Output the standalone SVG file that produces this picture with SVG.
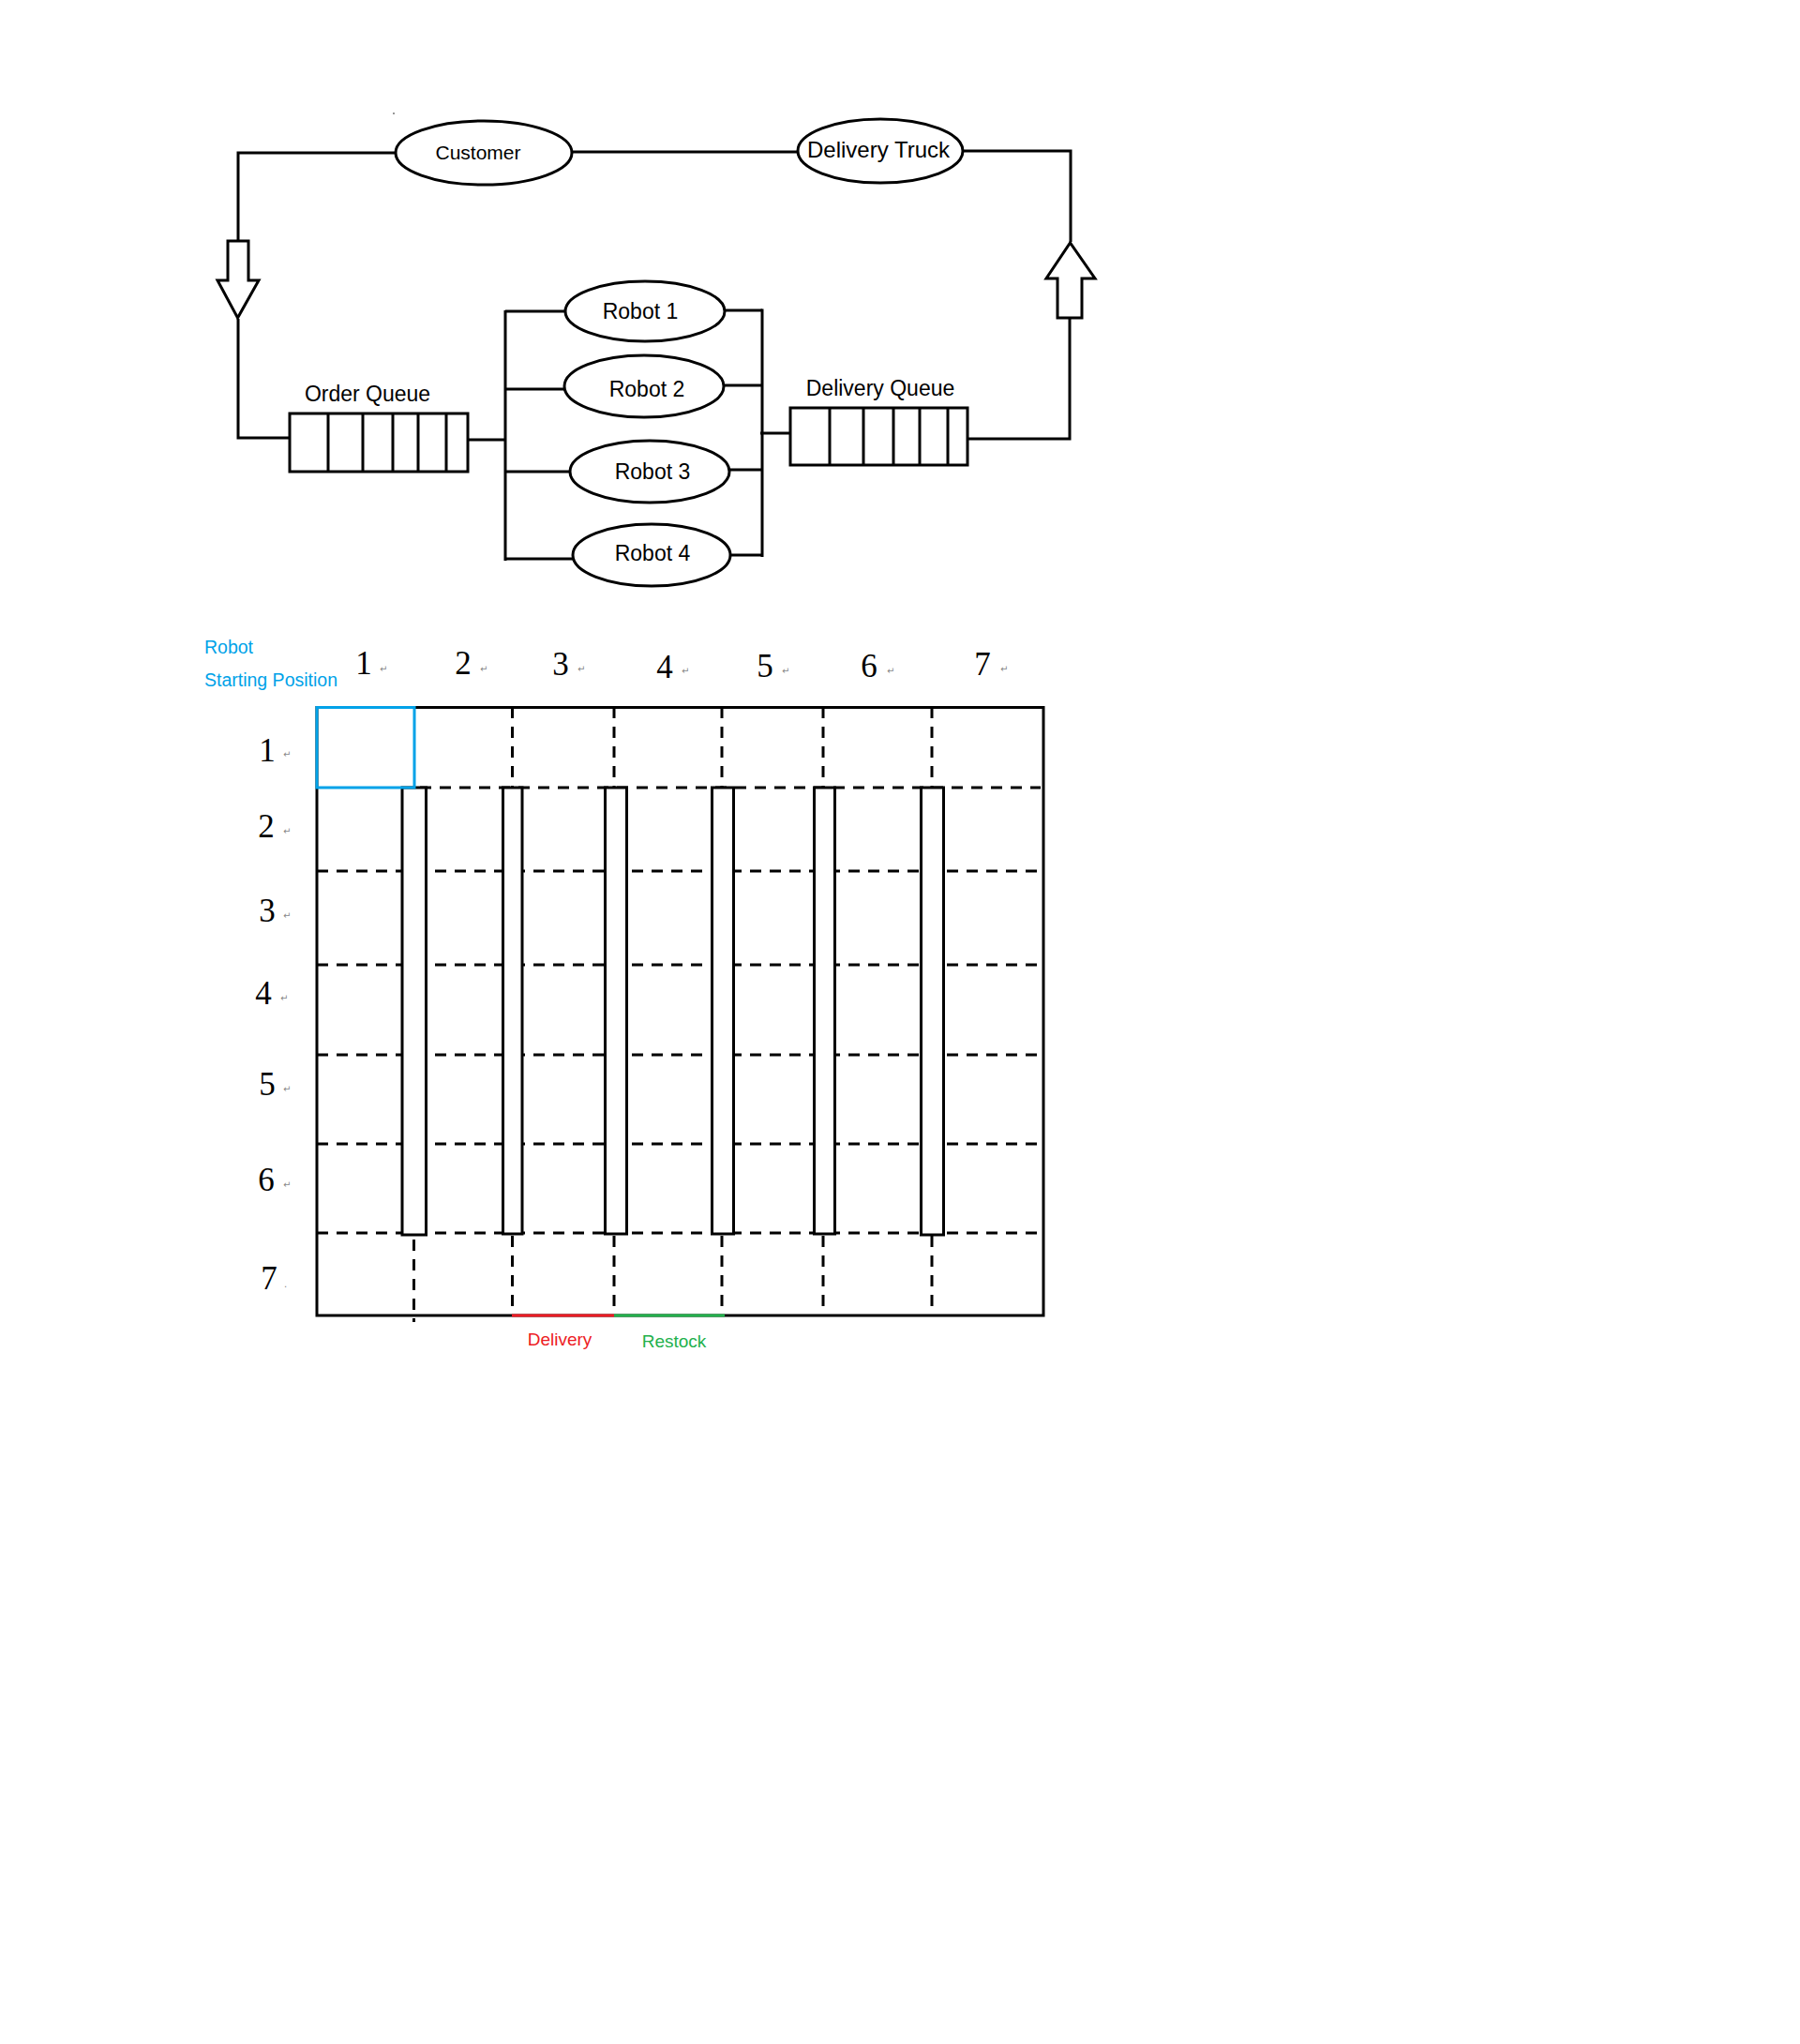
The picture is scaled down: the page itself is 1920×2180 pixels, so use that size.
<svg xmlns="http://www.w3.org/2000/svg" width="1920" height="2180" viewBox="0 0 1920 2180">
<style>
.ln{fill:none;stroke:#000;stroke-width:3}
.nd{fill:#fff;stroke:#000;stroke-width:3}
.lbl{font-family:"Liberation Sans",Arial,sans-serif;fill:#000;text-anchor:middle}
.dash{fill:none;stroke:#000;stroke-width:3;stroke-dasharray:12 9}
.num{font-family:"Liberation Serif","Times New Roman",serif;font-size:35px;fill:#000;text-anchor:middle}
.mk{font-family:"DejaVu Sans",sans-serif;font-size:10px;fill:#888}
.pil{fill:#fff;stroke:#000;stroke-width:3}
.blue{font-family:"Liberation Sans",Arial,sans-serif;font-size:19.5px;fill:#00A2E8}
</style>
<rect width="1920" height="2180" fill="#fff"/>
<circle cx="420" cy="121" r="0.9" fill="#666"/>

<g id="connectors">
  <polyline class="ln" points="422,163 254,163 254,257"/>
  <polyline class="ln" points="254,340 254,467 309,467"/>
  <line class="ln" x1="611" y1="162" x2="850" y2="162"/>
  <polyline class="ln" points="1028,161 1142,161 1142,258"/>
  <polyline class="ln" points="1141,339 1141,468 1033,468"/>
  <line class="ln" x1="500" y1="469" x2="539" y2="469"/>
  <line class="ln" x1="539" y1="331" x2="539" y2="598"/>
  <line class="ln" x1="539" y1="332" x2="603" y2="332"/>
  <line class="ln" x1="539" y1="415" x2="602" y2="415"/>
  <line class="ln" x1="539" y1="503" x2="608" y2="503"/>
  <line class="ln" x1="539" y1="596" x2="611" y2="596"/>
  <line class="ln" x1="773" y1="331" x2="813" y2="331"/>
  <line class="ln" x1="773" y1="411" x2="813" y2="411"/>
  <line class="ln" x1="778" y1="501" x2="813" y2="501"/>
  <line class="ln" x1="779" y1="592" x2="813" y2="592"/>
  <line class="ln" x1="813" y1="329.5" x2="813" y2="594"/>
  <line class="ln" x1="811" y1="462" x2="843" y2="462"/>
  <polygon id="arrow-down" class="nd" points="243,257 265,257 265,299 276,299 253.5,339 232,299 243,299"/>
  <polygon id="arrow-up" class="nd" points="1128,339 1154,339 1154,297 1168,297 1141.5,259 1116,297 1128,297"/>
</g>

<g id="customer">
  <ellipse class="nd" cx="516" cy="163" rx="94" ry="34"/>
  <text class="lbl" x="510" y="170" font-size="21">Customer</text>
</g>
<g id="delivery-truck">
  <ellipse class="nd" cx="939" cy="161" rx="88" ry="34"/>
  <text class="lbl" x="937" y="168" font-size="24">Delivery Truck</text>
</g>
<g id="order-queue">
  <rect class="nd" x="309" y="441" width="190" height="62"/>
  <path class="ln" d="M350,441V503M387,441V503M419,441V503M446,441V503M476,441V503"/>
  <text class="lbl" x="392" y="428" font-size="23">Order Queue</text>
</g>
<g id="delivery-queue">
  <rect class="nd" x="843" y="435" width="189" height="61"/>
  <path class="ln" d="M885,435V496M921,435V496M953,435V496M981,435V496M1011,435V496"/>
  <text class="lbl" x="939" y="422" font-size="23">Delivery Queue</text>
</g>
<g id="robot1">
  <ellipse class="nd" cx="688" cy="332" rx="85" ry="32"/>
  <text class="lbl" x="683" y="340" font-size="23">Robot 1</text>
</g>
<g id="robot2">
  <ellipse class="nd" cx="687" cy="412" rx="85" ry="33"/>
  <text class="lbl" x="690" y="423" font-size="23">Robot 2</text>
</g>
<g id="robot3">
  <ellipse class="nd" cx="693" cy="503" rx="85" ry="33"/>
  <text class="lbl" x="696" y="511" font-size="23">Robot 3</text>
</g>
<g id="robot4">
  <ellipse class="nd" cx="695" cy="592" rx="84" ry="33"/>
  <text class="lbl" x="696" y="598" font-size="23">Robot 4</text>
</g>

<g id="grid">
  <text class="blue" x="218" y="697">Robot</text>
  <text class="blue" x="218" y="732">Starting Position</text>

  <text class="num" x="388" y="719">1</text><text class="mk" x="405" y="717">↵</text>
  <text class="num" x="494" y="719">2</text><text class="mk" x="512" y="717">↵</text>
  <text class="num" x="598" y="720">3</text><text class="mk" x="616" y="717">↵</text>
  <text class="num" x="709" y="723">4</text><text class="mk" x="727" y="719">↵</text>
  <text class="num" x="816" y="722">5</text><text class="mk" x="834" y="719">↵</text>
  <text class="num" x="927" y="722">6</text><text class="mk" x="946" y="719">↵</text>
  <text class="num" x="1048" y="720">7</text><text class="mk" x="1067" y="717">↵</text>

  <text class="num" x="285" y="812">1</text><text class="mk" x="302" y="808">↵</text>
  <text class="num" x="284" y="893">2</text><text class="mk" x="302" y="890">↵</text>
  <text class="num" x="285" y="983">3</text><text class="mk" x="302" y="980">↵</text>
  <text class="num" x="281" y="1071">4</text><text class="mk" x="299" y="1068">↵</text>
  <text class="num" x="285" y="1168">5</text><text class="mk" x="302" y="1165">↵</text>
  <text class="num" x="284" y="1270">6</text><text class="mk" x="302" y="1267">↵</text>
  <text class="num" x="287" y="1375">7</text><text class="mk" x="303" y="1373">.</text>

  <rect class="ln" x="338" y="754.5" width="775" height="648.5"/>
  <path class="dash" d="M448,840H1110M338,929H1110M338,1029H1110M338,1125H1110M338,1220H1110M338,1315H1110"/>
  <path class="dash" d="M546.5,754V840M655,754V840M770,754V840M878,754V840M994,754V840"/>
  <path class="dash" d="M441.5,1322V1410M546.5,1318V1400M655,1318V1400M770,1318V1402M878,1318V1400M994,1318V1400"/>
  <rect class="pil" x="429" y="840" width="25.5" height="477"/>
  <rect class="pil" x="536.5" y="840" width="20.5" height="476"/>
  <rect class="pil" x="645.5" y="840" width="23" height="476"/>
  <rect class="pil" x="759.5" y="840" width="23" height="476"/>
  <rect class="pil" x="868.5" y="840" width="22" height="476"/>
  <rect class="pil" x="982.5" y="840" width="24" height="477"/>
  <rect x="338" y="754.5" width="104" height="85.5" fill="none" stroke="#00A2E8" stroke-width="3"/>
  <line x1="546" y1="1403" x2="655" y2="1403" stroke="#ED1C24" stroke-width="3"/>
  <line x1="655" y1="1403" x2="773" y2="1403" stroke="#22B14C" stroke-width="3"/>
  <text x="597" y="1435" font-family="Liberation Sans, Arial, sans-serif" font-size="19" fill="#ED1C24" text-anchor="middle">Delivery</text>
  <text x="719" y="1437" font-family="Liberation Sans, Arial, sans-serif" font-size="19" fill="#22B14C" text-anchor="middle">Restock</text>
</g>
</svg>
